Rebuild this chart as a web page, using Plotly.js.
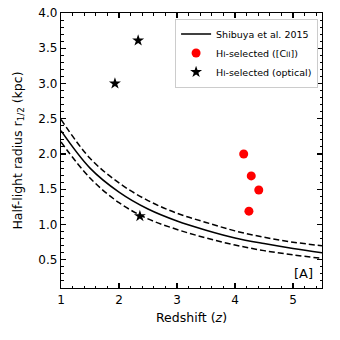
<!DOCTYPE html>
<html><head><meta charset="utf-8">
<script src="https://cdn.plot.ly/plotly-3.0.1.min.js"></script>
<style>html,body{margin:0;padding:0;background:#fff}#c{width:340px;height:340px}</style>
</head><body><div id="c"></div>
<script>
const zGrid = [1, 1.5, 2, 2.5, 3, 3.5, 4, 4.5, 5, 5.5];
const shibuya = [2.33, 1.80, 1.46, 1.22, 1.05, 0.92, 0.81, 0.73, 0.66, 0.60];
const shibuyaUpper = [2.49, 1.94, 1.59, 1.34, 1.16, 1.03, 0.91, 0.82, 0.75, 0.70];
const shibuyaLower = [2.17, 1.66, 1.31, 1.08, 0.93, 0.81, 0.71, 0.63, 0.57, 0.52];
const ciiZ = [4.15, 4.28, 4.41, 4.24];
const ciiR = [2.00, 1.69, 1.49, 1.19];
const optZ = [1.93, 2.33, 2.36];
const optR = [3.00, 3.61, 1.12];
const xTicks = [1, 2, 3, 4, 5];
const yTicks = [0.5, 1.0, 1.5, 2.0, 2.5, 3.0, 3.5, 4.0];

const sc = s => `<span style="font-size:80%">${s}</span>`;
const font = 'DejaVu Sans, sans-serif';

const traces = [
  {x: zGrid, y: shibuya, mode: 'lines', line: {color: '#000', width: 1.5, shape: 'spline'}, name: 'Shibuya et al. 2015'},
  {x: zGrid, y: shibuyaUpper, mode: 'lines', line: {color: '#000', width: 1.5, dash: '6px,3px', shape: 'spline'}, showlegend: false},
  {x: zGrid, y: shibuyaLower, mode: 'lines', line: {color: '#000', width: 1.5, dash: '6px,3px', shape: 'spline'}, showlegend: false},
  {x: ciiZ, y: ciiR, mode: 'markers', marker: {color: '#ff0000', size: 9, symbol: 'circle'}, name: 'H' + sc('I') + '-selected ([C' + sc('II') + '])'},
  {x: optZ, y: optR, mode: 'markers', marker: {color: '#000', size: 9, symbol: 'star'}, name: 'H' + sc('I') + '-selected (optical)'}
];

const axisCommon = {
  showgrid: false, zeroline: false, showline: true, linecolor: '#000', linewidth: 1.2,
  mirror: 'allticks', ticks: 'inside', ticklen: 5, tickwidth: 1.2, tickcolor: '#000',
  tickfont: {family: font, size: 12, color: '#000'}
};

const layout = {
  width: 340, height: 340,
  margin: {l: 61, r: 18, t: 13, b: 52},
  paper_bgcolor: '#fff', plot_bgcolor: '#fff',
  font: {family: font, color: '#000'},
  xaxis: Object.assign({}, axisCommon, {
    range: [1, 5.5], tickmode: 'array', tickvals: xTicks, ticktext: xTicks.map(String),
    minor: {dtick: 0.2, tick0: 1, ticks: 'inside', ticklen: 2.5, tickwidth: 1, tickcolor: '#000'},
    title: {text: 'Redshift (<i>z</i>)', font: {family: font, size: 12.5, color: '#000'}, standoff: 7}
  }),
  yaxis: Object.assign({}, axisCommon, {
    range: [0.1, 4.0], tickmode: 'array', tickvals: yTicks, ticktext: yTicks.map(v => v.toFixed(1)),
    minor: {dtick: 0.1, tick0: 0, ticks: 'inside', ticklen: 2.5, tickwidth: 1, tickcolor: '#000'},
    title: {text: 'Half-light radius r<sub>1/2</sub> (kpc)', font: {family: font, size: 12.5, color: '#000'}, standoff: 13}
  }),
  legend: {
    x: 0.985, y: 0.98, xanchor: 'right', yanchor: 'top',
    bgcolor: 'rgba(255,255,255,0.8)', bordercolor: '#cccccc', borderwidth: 1,
    font: {family: font, size: 9.5, color: '#000'}, itemwidth: 30, tracegroupgap: 0
  },
  annotations: [{
    xref: 'paper', yref: 'paper', x: 0.975, y: 0.02, xanchor: 'right', yanchor: 'bottom',
    text: '[A]', showarrow: false, font: {family: font, size: 13, color: '#000'}
  }],
  showlegend: true
};

Plotly.newPlot('c', traces, layout, {displayModeBar: false, staticPlot: true});
</script>
</body></html>
